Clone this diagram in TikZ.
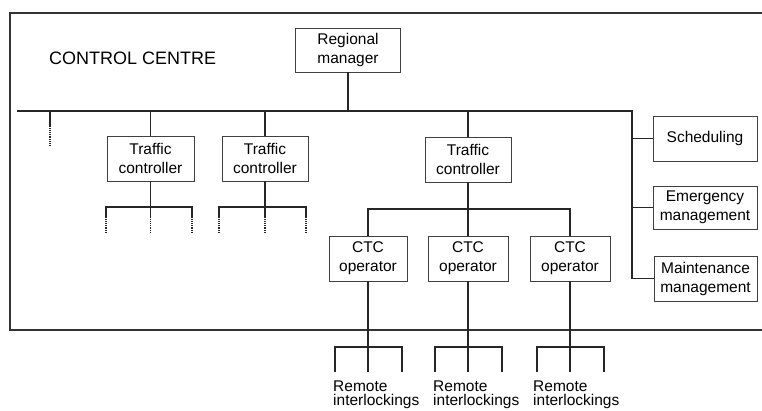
\documentclass[tikz,border=0pt]{standalone}
\usepackage{fontspec}
\setmainfont{Liberation Sans}
\usetikzlibrary{calc}
\begin{document}
\begin{tikzpicture}[x=1pt,y=-1pt,
  box/.style={draw=black!75, line width=0.9pt, align=center, inner sep=0pt,
    font=\fontsize{15.5}{19}\selectfont},
  ln/.style={draw=black!85, line width=1.1pt},
  dln/.style={draw=black!85, line width=1.1pt, densely dotted},
  frame/.style={draw=black!80, line width=1.3pt},
  txt/.style={align=left, inner sep=0pt, font=\fontsize{15.5}{14}\selectfont}]
\useasboundingbox (0,0) rectangle (762,411);

% outer frame (open on the right)
\coordinate (f1) at (762,13);
\coordinate (f2) at (10,13);
\coordinate (f3) at (10,330);
\coordinate (f4) at (762,330);
\draw[frame] (f1) -- (f2) -- (f3) -- (f4);

\node[txt, anchor=west, font=\fontsize{18}{20}\selectfont] (cc) at (49,58) {CONTROL CENTRE};

% boxes
\node[box, minimum width=105pt, minimum height=44pt] (rm) at (348,50) {Regional\\manager};
\node[box, minimum width=87pt, minimum height=45pt] (tc1) at (150.5,158.5) {Traffic\\controller};
\node[box, minimum width=86pt, minimum height=45pt] (tc2) at (265,158.5) {Traffic\\controller};
\node[box, minimum width=86pt, minimum height=45pt] (tc3) at (468,159.5) {Traffic\\controller};
\node[box, minimum width=78pt, minimum height=45pt] (ctc1) at (368,258.5) {CTC\\operator};
\node[box, minimum width=80pt, minimum height=45pt] (ctc2) at (468,258.5) {CTC\\operator};
\node[box, minimum width=80pt, minimum height=45pt] (ctc3) at (570,258.5) {CTC\\operator};
\node[box, minimum width=104pt, minimum height=45pt] (sch) at (705,138.5) {Scheduling};
\node[box, minimum width=104pt, minimum height=43pt] (em) at (705,207.5) {Emergency\\management};
\node[box, minimum width=103pt, minimum height=45pt] (mm) at (705.5,278.5) {Maintenance\\management};

% main bus
\coordinate (bl) at (17,111);
\coordinate (br) at (632,111);
\draw[ln] (bl) -- (br) -- (br |- mm.west) -- (mm.west);
\draw[ln] (br |- sch.west) -- (sch.west);
\draw[ln] (br |- em.west) -- (em.west);
\draw[ln] (rm.south) -- (rm.south |- bl);

% stub at left
\coordinate (s0a) at (50,111);
\coordinate (s0b) at (50,126);
\coordinate (s0c) at (50,145);
\draw[ln] (s0a) -- (s0b);
\draw[dln] (s0b) -- (s0c);

% traffic controllers to bus
\draw[ln] (tc1.north) -- (tc1.north |- bl);
\draw[ln] (tc2.north) -- (tc2.north |- bl);
\draw[ln] (tc3.north) -- (tc3.north |- bl);

% sub-trees under TC1 and TC2
\foreach \t/\l/\r in {tc1/106/192, tc2/219/306}{
  \coordinate (\t j) at (\t.south |- 0,207);
  \coordinate (\t l) at (\l,207);
  \coordinate (\t r) at (\r,207);
  \draw[ln] (\t.south) -- (\t j) -- ++(0,10);
  \draw[ln] (\t l) ++(0,10) -- (\t l) -- (\t r) -- ++(0,10);
  \draw[dln] (\t l) ++(0,10) -- ++(0,16);
  \draw[dln] (\t j) ++(0,10) -- ++(0,16);
  \draw[dln] (\t r) ++(0,10) -- ++(0,16);
}

% TC3 to CTC operators
\coordinate (j3) at (468,209);
\draw[ln] (tc3.south) -- (j3);
\draw[ln] (ctc1.north) |- (ctc3.north |- j3) -- (ctc3.north);
\draw[ln] (ctc2.north) -- (ctc2.north |- j3);

% CTC operators to remote interlockings
\foreach \c in {ctc1,ctc2,ctc3}{
  \coordinate (\c b) at (\c.south |- 0,347);
  \coordinate (\c l) at ($(\c b)+(-33,0)$);
  \coordinate (\c r) at ($(\c b)+(34,0)$);
  \draw[ln] (\c.south) -- (\c b) -- ++(0,25);
  \draw[ln] (\c l) ++(0,25) -- (\c l) -- (\c r) -- ++(0,25);
}
\node[txt, anchor=north west] (ri1) at (333,380.6) {Remote\\interlockings};
\node[txt, anchor=north west] (ri2) at (433,380.6) {Remote\\interlockings};
\node[txt, anchor=north west] (ri3) at (533,380.6) {Remote\\interlockings};
\end{tikzpicture}
\end{document}
